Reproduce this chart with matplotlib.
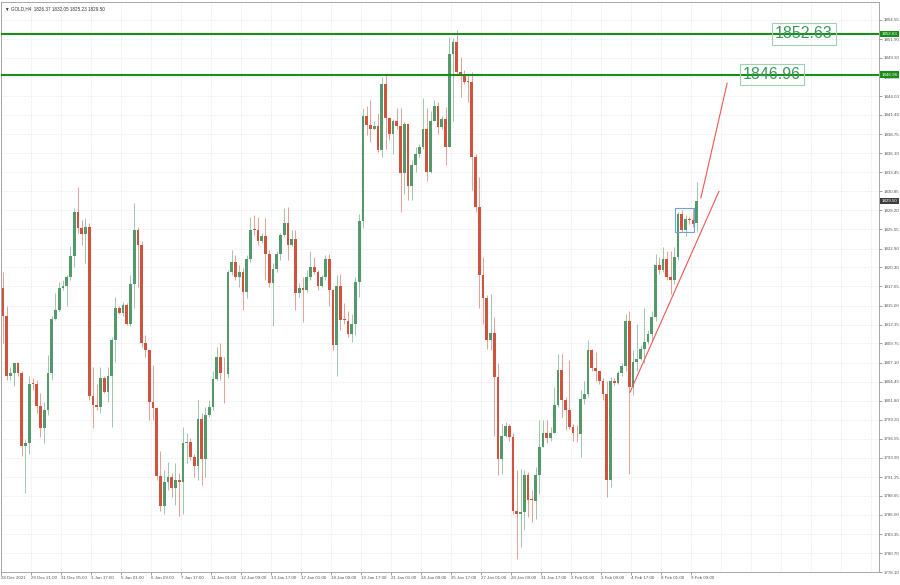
import numpy as np
import matplotlib
matplotlib.use('Agg')
import matplotlib.pyplot as plt
import matplotlib.transforms as mtransforms
from matplotlib.patches import Rectangle

plt.rcParams['font.family'] = ['Liberation Sans', 'DejaVu Sans']

# GOLD H4 candles (one entry per bar, oldest first)
opens = [1817.4, 1813.5, 1805.2, 1805.7, 1807.0, 1805.7, 1795.5, 1795.9, 1804.2, 1804.1,
         1801.1, 1798.0, 1800.6, 1805.6, 1813.2, 1814.4, 1817.4, 1817.7, 1819.0, 1821.9,
         1828.0, 1825.7, 1824.9, 1825.9, 1802.5, 1801.2, 1801.0, 1804.9, 1803.0, 1805.2,
         1810.2, 1814.6, 1814.0, 1815.1, 1812.5, 1818.0, 1825.5, 1823.4, 1809.8, 1808.8,
         1801.7, 1800.8, 1791.4, 1787.2, 1790.6, 1791.2, 1789.7, 1790.9, 1790.6, 1795.9,
         1796.1, 1794.0, 1792.8, 1799.3, 1793.7, 1799.8, 1801.0, 1804.8, 1807.9, 1805.6,
         1805.5, 1819.6, 1821.1, 1819.0, 1819.7, 1816.9, 1821.4, 1825.5, 1825.4, 1823.9,
         1824.6, 1822.2, 1818.1, 1820.0, 1822.2, 1824.8, 1826.4, 1823.4, 1824.2, 1816.7,
         1817.4, 1817.1, 1819.0, 1820.4, 1819.6, 1817.7, 1818.9, 1821.4, 1817.1, 1809.6,
         1817.7, 1813.0, 1812.9, 1811.1, 1812.5, 1818.3, 1826.7, 1841.3, 1840.0, 1839.5,
         1839.8, 1836.6, 1845.7, 1841.0, 1838.7, 1840.6, 1839.8, 1833.4, 1840.2, 1831.5,
         1834.4, 1836.0, 1837.0, 1839.4, 1833.5, 1840.6, 1842.6, 1839.7, 1840.9, 1837.0,
         1849.9, 1851.5, 1847.3, 1847.1, 1846.0, 1845.9, 1835.6, 1828.7, 1819.2, 1816.0,
         1810.2, 1811.2, 1805.1, 1793.8, 1797.0, 1798.3, 1796.8, 1786.6, 1786.1, 1786.4,
         1791.5, 1788.1, 1788.0, 1791.5, 1795.4, 1797.3, 1796.6, 1797.3, 1801.2, 1806.1,
         1801.9, 1800.5, 1798.2, 1797.3, 1797.2, 1802.1, 1802.8, 1808.8, 1806.3, 1806.0,
         1804.6, 1802.8, 1790.8, 1804.6, 1804.3, 1805.6, 1806.6, 1812.9, 1803.7, 1807.2,
         1807.6, 1809.0, 1810.0, 1811.1, 1813.4, 1820.6, 1819.9, 1821.5, 1819.0, 1818.5,
         1821.7, 1827.7, 1825.4, 1827.0, 1826.8, 1826.37]

highs = [1819.7, 1814.9, 1806.5, 1807.2, 1807.2, 1805.9, 1796.4, 1805.2, 1804.9, 1804.7,
         1802.9, 1801.7, 1808.2, 1813.5, 1816.7, 1818.3, 1818.5, 1819.2, 1823.2, 1828.5,
         1831.4, 1826.9, 1827.1, 1826.4, 1806.5, 1804.1, 1806.5, 1805.2, 1806.5, 1810.7,
         1816.2, 1814.9, 1815.5, 1815.3, 1819.2, 1829.2, 1825.9, 1823.9, 1810.9, 1808.9,
         1806.8, 1801.0, 1794.8, 1792.2, 1793.4, 1791.8, 1793.2, 1791.8, 1798.2, 1797.3,
         1796.6, 1794.5, 1801.9, 1800.1, 1801.0, 1801.9, 1805.9, 1809.3, 1809.8, 1807.9,
         1819.9, 1822.7, 1822.0, 1820.6, 1820.2, 1822.0, 1827.3, 1827.6, 1827.3, 1825.0,
         1827.1, 1822.7, 1820.9, 1822.5, 1825.0, 1828.5, 1828.7, 1825.5, 1825.5, 1818.1,
         1819.0, 1819.9, 1822.6, 1821.7, 1819.9, 1819.2, 1822.0, 1822.2, 1817.3, 1819.3,
         1819.4, 1815.4, 1814.3, 1813.9, 1819.0, 1827.7, 1842.3, 1842.7, 1843.4, 1840.6,
         1841.6, 1846.7, 1847.1, 1841.1, 1840.9, 1842.3, 1842.3, 1840.4, 1840.2, 1835.1,
         1837.0, 1837.4, 1843.7, 1842.3, 1842.0, 1843.4, 1843.2, 1841.3, 1842.5, 1852.2,
         1852.0, 1853.2, 1849.4, 1847.6, 1847.1, 1847.3, 1836.0, 1832.8, 1821.7, 1816.4,
         1816.6, 1813.4, 1807.0, 1798.6, 1798.9, 1798.6, 1797.3, 1792.2, 1792.4, 1792.2,
         1792.0, 1789.5, 1792.6, 1799.1, 1799.1, 1799.1, 1798.2, 1803.7, 1808.3, 1808.3,
         1802.3, 1807.4, 1798.6, 1798.4, 1803.3, 1804.6, 1810.2, 1809.0, 1808.6, 1806.0,
         1804.9, 1804.6, 1805.1, 1804.9, 1806.0, 1807.0, 1813.9, 1814.3, 1808.8, 1812.5,
         1809.5, 1814.6, 1811.6, 1814.3, 1822.2, 1821.7, 1823.1, 1822.6, 1822.6, 1823.1,
         1828.0, 1828.2, 1827.5, 1827.3, 1828.4, 1832.05]

lows = [1809.8, 1804.7, 1804.7, 1803.8, 1805.2, 1794.1, 1789.0, 1794.5, 1803.3, 1800.1,
        1796.8, 1795.9, 1799.8, 1804.7, 1813.0, 1814.2, 1817.2, 1814.9, 1818.5, 1820.4,
        1825.0, 1823.4, 1820.9, 1801.9, 1798.0, 1800.5, 1800.1, 1802.9, 1801.7, 1798.2,
        1807.2, 1813.9, 1813.5, 1812.3, 1812.1, 1814.6, 1817.6, 1809.3, 1807.9, 1799.2,
        1799.2, 1790.8, 1786.5, 1786.2, 1789.5, 1788.5, 1787.4, 1785.8, 1786.2, 1793.2,
        1793.6, 1791.3, 1790.8, 1790.2, 1791.3, 1799.6, 1800.5, 1804.7, 1804.7, 1801.5,
        1805.0, 1819.2, 1818.5, 1817.6, 1814.4, 1816.0, 1821.1, 1824.8, 1823.4, 1823.6,
        1818.5, 1817.6, 1812.1, 1819.7, 1821.3, 1824.5, 1821.3, 1823.2, 1814.4, 1816.2,
        1812.7, 1816.9, 1818.5, 1819.4, 1817.1, 1817.6, 1818.5, 1815.0, 1808.8, 1805.2,
        1811.6, 1812.5, 1810.6, 1810.0, 1810.9, 1816.2, 1825.8, 1838.6, 1837.6, 1839.3,
        1836.3, 1835.6, 1836.7, 1837.9, 1836.0, 1839.5, 1828.0, 1830.5, 1829.6, 1829.6,
        1833.5, 1835.6, 1836.7, 1832.3, 1833.3, 1840.6, 1838.8, 1839.5, 1834.4, 1837.0,
        1840.6, 1847.1, 1843.9, 1845.7, 1843.2, 1831.0, 1828.0, 1814.6, 1812.5, 1809.0,
        1808.8, 1797.0, 1791.5, 1791.7, 1796.8, 1796.3, 1786.2, 1779.9, 1781.6, 1783.9,
        1785.7, 1785.0, 1785.5, 1788.9, 1795.4, 1795.9, 1796.3, 1797.3, 1801.0, 1799.6,
        1797.7, 1797.9, 1796.3, 1796.1, 1794.0, 1801.4, 1802.3, 1806.0, 1804.6, 1804.2,
        1801.9, 1788.5, 1789.9, 1804.0, 1804.2, 1805.3, 1806.0, 1791.7, 1802.6, 1806.0,
        1807.4, 1807.0, 1809.7, 1810.0, 1812.9, 1819.4, 1819.6, 1818.5, 1816.6, 1818.0,
        1821.3, 1825.2, 1824.7, 1826.3, 1825.9, 1825.23]

closes = [1813.5, 1805.2, 1805.7, 1807.0, 1805.7, 1795.5, 1795.9, 1804.2, 1804.1, 1801.1,
          1798.0, 1800.6, 1805.6, 1813.2, 1814.4, 1817.4, 1817.7, 1819.0, 1821.9, 1828.0,
          1825.7, 1824.9, 1825.9, 1802.5, 1801.2, 1801.0, 1804.9, 1803.0, 1805.2, 1810.2,
          1814.6, 1814.0, 1815.1, 1812.5, 1818.0, 1825.5, 1823.4, 1809.8, 1808.8, 1801.7,
          1800.8, 1791.4, 1787.2, 1790.6, 1791.2, 1789.7, 1790.9, 1790.6, 1795.9, 1796.1,
          1794.0, 1792.8, 1799.3, 1793.7, 1799.8, 1801.0, 1804.8, 1807.9, 1805.6, 1805.5,
          1819.6, 1821.1, 1819.0, 1819.7, 1816.9, 1821.4, 1825.5, 1825.4, 1823.9, 1824.6,
          1822.2, 1818.1, 1820.0, 1822.2, 1824.8, 1826.4, 1823.4, 1824.2, 1816.7, 1817.4,
          1817.1, 1819.0, 1820.4, 1819.6, 1817.7, 1818.9, 1821.4, 1817.1, 1809.6, 1817.7,
          1813.0, 1812.9, 1811.1, 1812.5, 1818.3, 1826.7, 1841.3, 1840.0, 1839.5, 1839.8,
          1836.6, 1845.7, 1841.0, 1838.7, 1840.6, 1839.8, 1833.4, 1840.2, 1831.5, 1834.4,
          1836.0, 1837.0, 1839.4, 1833.5, 1840.6, 1842.6, 1839.7, 1840.9, 1837.0, 1849.9,
          1851.5, 1847.3, 1847.1, 1846.0, 1845.9, 1835.6, 1828.7, 1819.2, 1816.0, 1810.2,
          1811.2, 1805.1, 1793.8, 1797.0, 1798.3, 1796.8, 1786.6, 1786.1, 1786.4, 1791.5,
          1788.1, 1788.0, 1791.5, 1795.4, 1797.3, 1796.6, 1797.3, 1801.2, 1806.1, 1801.9,
          1800.5, 1798.2, 1797.3, 1797.2, 1802.1, 1802.8, 1808.8, 1806.3, 1806.0, 1804.6,
          1802.8, 1790.8, 1804.6, 1804.3, 1805.6, 1806.6, 1812.9, 1803.7, 1807.2, 1807.6,
          1809.0, 1810.0, 1811.1, 1813.4, 1820.6, 1819.9, 1821.5, 1819.0, 1818.5, 1821.7,
          1827.7, 1825.4, 1827.0, 1826.8, 1826.3, 1829.50]

time_labels = ['28 Dec 2021', '29 Dec 21:00', '31 Dec 05:00', '3 Jan 17:00', '5 Jan 01:00',
               '6 Jan 09:00', '7 Jan 17:00', '11 Jan 01:00', '12 Jan 09:00', '13 Jan 17:00',
               '17 Jan 01:00', '18 Jan 09:00', '19 Jan 17:00', '21 Jan 01:00', '24 Jan 09:00',
               '25 Jan 17:00', '27 Jan 01:00', '28 Jan 09:00', '31 Jan 17:00', '2 Feb 01:00',
               '3 Feb 09:00', '4 Feb 17:00', '8 Feb 01:00', '9 Feb 09:00']

price_ticks = [1854.55, 1851.90, 1849.30, 1846.65, 1844.00, 1841.40, 1838.75, 1836.10,
               1833.45, 1830.85, 1828.20, 1825.55, 1822.90, 1820.30, 1817.65, 1815.00,
               1812.35, 1809.75, 1807.10, 1804.45, 1801.80, 1799.20, 1796.55, 1793.90,
               1791.25, 1788.65, 1786.00, 1783.35, 1780.70, 1778.10]

levels = [1852.63, 1846.96]

# red trend lines and the blue box (bar index, price)
trend_low_x = [167.2, 190.9]
trend_low_y = [1803.0, 1830.8]
trend_up_x = [186.1, 193.1]
trend_up_y = [1829.9, 1845.8]
box_x = [179.2, 184.3]
box_y = [1825.2, 1828.5]

up_col = '#53996b'
down_col = '#d25240'
level_col = '#1a8c1a'

fig = plt.figure(figsize=(9, 5.85), dpi=100)
ax = fig.add_axes([0.0011, 0.0222, 0.9756, 0.9744])
ax.set_xlim(-0.53, 233.6)
ax.set_ylim(1778.10, 1857.04)

# grid
for b in range(0, 234, 8):
    ax.axvline(b - 0.5, color='#e4e4e4', lw=0.5, ls=(0, (1, 1)), zorder=0)
for p in price_ticks:
    ax.axhline(p, color='#e4e4e4', lw=0.5, ls=(0, (1, 1)), zorder=0)

# candles
x = np.arange(len(closes))
o = np.array(opens)
c = np.array(closes)
cols = np.where(c >= o, up_col, down_col)
ax.vlines(x, lows, highs, colors=cols, linewidth=0.7, alpha=0.55, zorder=2)
body = np.where(np.abs(c - o) < 0.12, 0.12, c - o)
ax.bar(x, body, bottom=o, width=0.72, color=cols, linewidth=0, zorder=3)

# support / resistance levels
blend = mtransforms.blended_transform_factory(ax.transAxes, ax.transData)
for lv, xt in zip(levels, [213.6, 205.1]):
    ax.axhline(lv, color=level_col, lw=1.5, zorder=4)
    ax.text(xt, lv, f'{lv:.2f}', fontsize=11.5, color='#3a985b', ha='center', va='center',
            bbox=dict(boxstyle='square,pad=0.2', fc='none', ec='#9fd3ad', lw=0.8), zorder=5)
    ax.text(1.003, lv, f'{lv:.2f}', transform=blend, fontsize=3.2, color='white',
            ha='left', va='center', clip_on=False,
            bbox=dict(boxstyle='square,pad=0.3', fc=level_col, ec='none'))

ax.text(1.003, closes[-1], f'{closes[-1]:.2f}', transform=blend, fontsize=3.2, color='white',
        ha='left', va='center', clip_on=False,
        bbox=dict(boxstyle='square,pad=0.3', fc='#3c3c3c', ec='none'))

# trend lines and box
ax.plot(trend_low_x, trend_low_y, color='#f25555', lw=0.8, zorder=4)
ax.plot(trend_up_x, trend_up_y, color='#f25555', lw=0.8, zorder=4)
ax.add_patch(Rectangle((box_x[0], box_y[0]), box_x[1] - box_x[0], box_y[1] - box_y[0],
                       fill=False, ec='#6fa3d8', lw=0.8, zorder=5))

# header
ax.text(0.004, 0.993, f'\u25bc GOLD,H4  {opens[-1]:.2f} {highs[-1]:.2f} {lows[-1]:.2f} {closes[-1]:.2f}',
        transform=ax.transAxes, fontsize=3.3, color='#333333', ha='left', va='top')

# axes
ax.yaxis.tick_right()
ax.set_yticks(price_ticks, [f'{p:.2f}' for p in price_ticks])
ax.set_xticks(np.arange(len(time_labels)) * 8 - 0.5, time_labels)
for lab in ax.get_xticklabels():
    lab.set_ha('left')
ax.tick_params(axis='both', labelsize=3.2, length=2, width=0.4, pad=1, colors='#555555')
for s in ax.spines.values():
    s.set_color('#9a9a9a')
    s.set_linewidth(0.6)

fig.savefig('out.png', dpi=100)
